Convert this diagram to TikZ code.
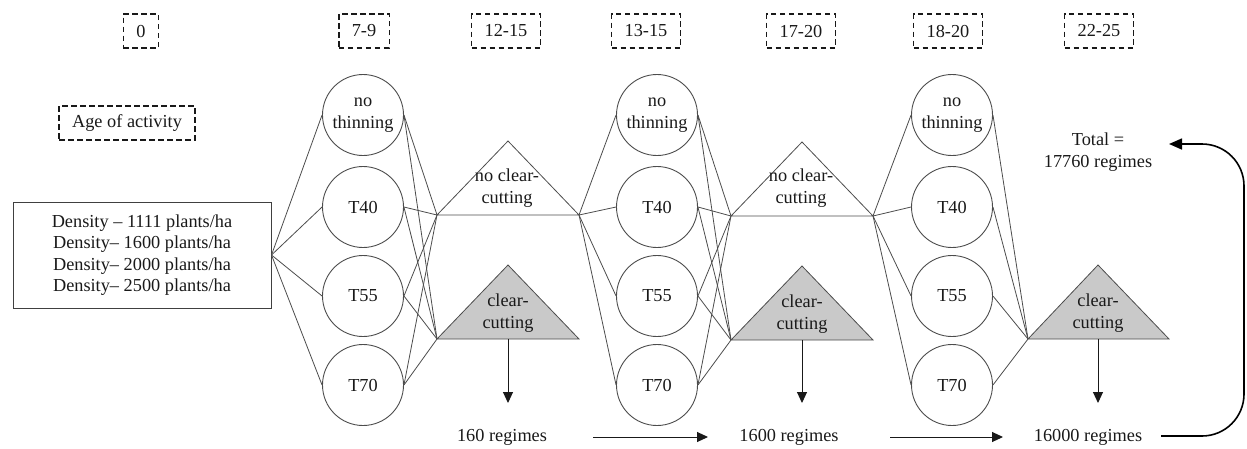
\documentclass[tikz,border=0pt]{standalone}
\usepackage{fontspec}
\setmainfont{Liberation Serif}
\usetikzlibrary{arrows.meta}
\begin{document}
\begin{tikzpicture}[x=1pt,y=-1pt,
  every node/.style={font=\fontsize{18.3}{21.5}\selectfont, text=black!90},
  ln/.style={draw=black!70, line width=0.8pt},
  circ/.style={circle, draw=black!70, line width=0.9pt, minimum size=81pt, inner sep=0pt, align=center},
  agebox/.style={draw=black!90, line width=1.4pt, dash pattern=on 5.5pt off 3.5pt, inner xsep=13pt, minimum height=34pt},
  tri/.style={draw=black!70, line width=0.8pt},
  ctri/.style={tri, fill=gray!42},
  arr/.style={draw=black!90, line width=1pt, -{Triangle[length=11pt,width=10pt]}},
  lbl/.style={align=center, inner sep=0pt}
]
\useasboundingbox (0,0) rectangle (1247,448);

% age boxes
\node[agebox] (a0) at (141,31) {0};
\node[agebox] (a1) at (364,31) {7-9};
\node[agebox] (a2) at (506,31) {12-15};
\node[agebox] (a3) at (646,31) {13-15};
\node[agebox] (a4) at (801,31) {17-20};
\node[agebox] (a5) at (948,31) {18-20};
\node[agebox] (a6) at (1099,31) {22-25};
\node[agebox] (age) at (127,123) {Age of activity};

% density box
\node[draw=black!75, line width=1pt, minimum width=258pt, minimum height=106pt, align=center, inner sep=0pt] (dens) at (142,255)
  {Density – 1111 plants/ha\\Density– 1600 plants/ha\\Density– 2000 plants/ha\\Density– 2500 plants/ha};

% circles
\node[circ] (c1a) at (363,115) {no\\thinning};
\node[circ] (c1b) at (363,207) {T40};
\node[circ] (c1c) at (363,296) {T55};
\node[circ] (c1d) at (363,385) {T70};
\node[circ] (c2a) at (657,115) {no\\thinning};
\node[circ] (c2b) at (657,207) {T40};
\node[circ] (c2c) at (657,296) {T55};
\node[circ] (c2d) at (657,385) {T70};
\node[circ] (c3a) at (952,115) {no\\thinning};
\node[circ] (c3b) at (952,207) {T40};
\node[circ] (c3c) at (952,296) {T55};
\node[circ] (c3d) at (952,385) {T70};

% triangle corners
\coordinate (n1l) at (437,215); \coordinate (n1r) at (579,215); \coordinate (n1t) at (508,141);
\coordinate (k1l) at (437,339); \coordinate (k1r) at (579,339); \coordinate (k1t) at (508,265);
\coordinate (n2l) at (731,216); \coordinate (n2r) at (873,216); \coordinate (n2t) at (802,142);
\coordinate (k2l) at (731,340); \coordinate (k2r) at (873,340); \coordinate (k2t) at (802,266);
\coordinate (k3l) at (1028,339); \coordinate (k3r) at (1169,339); \coordinate (k3t) at (1098,265);

\draw[tri] (n1l) -- (n1t) -- (n1r) -- cycle;
\draw[ctri] (k1l) -- (k1t) -- (k1r) -- cycle;
\draw[tri] (n2l) -- (n2t) -- (n2r) -- cycle;
\draw[ctri] (k2l) -- (k2t) -- (k2r) -- cycle;
\draw[ctri] (k3l) -- (k3t) -- (k3r) -- cycle;

\node[lbl] (n1x) at (507,188) {no clear-\\cutting};
\node[lbl] (k1x) at (508,313) {clear-\\cutting};
\node[lbl] (n2x) at (801,188) {no clear-\\cutting};
\node[lbl] (k2x) at (802,314) {clear-\\cutting};
\node[lbl] (k3x) at (1098,313) {clear-\\cutting};

% connectors
\foreach \c in {c1a,c1b,c1c,c1d} {\draw[ln] (dens.east) -- (\c.west);}
\foreach \c in {c1a,c1b,c1c,c1d} {\draw[ln] (\c.east) -- (n1l); \draw[ln] (\c.east) -- (k1l);}
\foreach \c in {c2a,c2b,c2c,c2d} {\draw[ln] (n1r) -- (\c.west);}
\foreach \c in {c2a,c2b,c2c,c2d} {\draw[ln] (\c.east) -- (n2l); \draw[ln] (\c.east) -- (k2l);}
\foreach \c in {c3a,c3b,c3c,c3d} {\draw[ln] (n2r) -- (\c.west);}
\foreach \c in {c3a,c3b,c3c,c3d} {\draw[ln] (\c.east) -- (k3l);}

% results
\node[lbl] (r1) at (502,437) {160 regimes};
\node[lbl] (r2) at (789,437) {1600 regimes};
\node[lbl] (r3) at (1088,437) {16000 regimes};
\node[lbl] (tot) at (1098,152) {Total =\\17760 regimes};

\coordinate (k1m) at (508,339); \coordinate (k1e) at (508,403);
\coordinate (k2m) at (802,340); \coordinate (k2e) at (802,403);
\coordinate (k3m) at (1098,339); \coordinate (k3e) at (1098,403);
\draw[arr] (k1m) -- (k1e);
\draw[arr] (k2m) -- (k2e);
\draw[arr] (k3m) -- (k3e);

\coordinate (h1s) at (593,437); \coordinate (h1e) at (708,437);
\coordinate (h2s) at (890,437); \coordinate (h2e) at (1003,437);
\draw[arr] (h1s) -- (h1e);
\draw[arr] (h2s) -- (h2e);

\coordinate (cs) at (1161,436); \coordinate (totin) at (1169,144);
\draw[arr, draw=black, line width=1.6pt, rounded corners=42pt, -{Triangle[length=13pt,width=11pt]}] (cs) -- (1244,436) -- (1244,144) -- (totin);
\end{tikzpicture}
\end{document}
